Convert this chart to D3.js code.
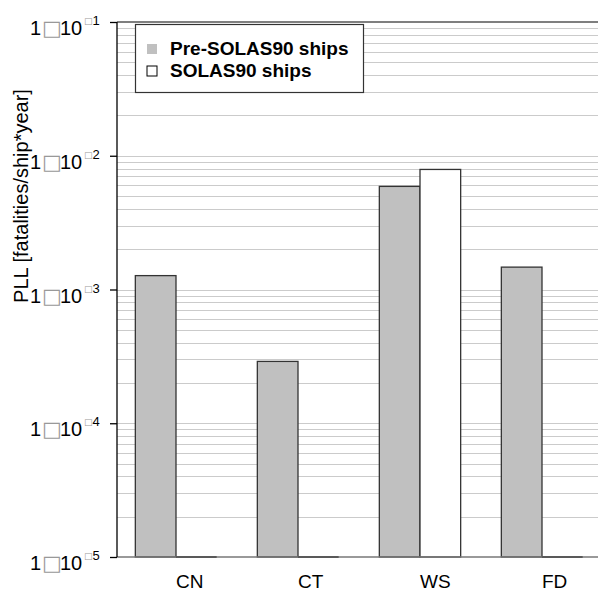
<!DOCTYPE html>
<html>
<head>
<meta charset="utf-8">
<script src="https://cdn.jsdelivr.net/npm/d3@7"></script>
<style>
  body { margin: 0; background: #fff; }
  svg { display: block; font-family: "Liberation Sans", Arial, sans-serif; }
  .grid line { stroke: #cbcbcb; stroke-width: 1; shape-rendering: crispEdges; }
  .y-axis path { display: none; }
  .y-axis line { stroke: #000; }
</style>
</head>
<body>
<div id="chart"></div>
<script>
// Chart data
const categories = ["CN", "CT", "WS", "FD"];
const seriesNames = ["Pre-SOLAS90 ships", "SOLAS90 ships"];
const preSolasValues = [1.27e-3, 2.9e-4, 5.9e-3, 1.47e-3];
const solasValues = [null, null, 7.9e-3, null];
const tickExponents = [1, 2, 3, 4, 5];

const width = 598, height = 592;
const plotLeft = 117, plotTop = 22, plotBottom = 557;

let svg = d3.select("#chart")
    .append("svg")
    .attr("width", width)
    .attr("height", height);

// Scales
let yScale = d3.scaleLog()
    .domain([1e-5, 1e-1])
    .range([plotBottom, plotTop]);

let xScale = d3.scaleBand()
    .domain(categories)
    .range([115, 603])
    .paddingInner(1 / 3)
    .paddingOuter(1 / 6);

let seriesScale = d3.scaleBand()
    .domain([0, 1])
    .range([0, xScale.bandwidth()]);

// Gridlines (log minor + major)
svg.append("g")
    .attr("class", "grid")
    .selectAll("line")
    .data(yScale.ticks().filter(d => d > 1e-5 && d < 1e-1))
    .enter()
    .append("line")
    .attr("x1", plotLeft)
    .attr("x2", width)
    .attr("y1", d => Math.round(yScale(d)) + 0.5)
    .attr("y2", d => Math.round(yScale(d)) + 0.5);

// Top border line
svg.append("line")
    .attr("x1", plotLeft)
    .attr("x2", width)
    .attr("y1", plotTop)
    .attr("y2", plotTop)
    .attr("stroke", "#555")
    .attr("stroke-width", 1.5);

// Bars
let rows = categories.map((c, i) => ({cat: c, values: [preSolasValues[i], solasValues[i]]}));

let groups = svg.selectAll(".bar-group")
    .data(rows)
    .enter()
    .append("g")
    .attr("class", "bar-group")
    .attr("transform", d => `translate(${xScale(d.cat)},0)`);

groups.selectAll("rect")
    .data(d => d.values.map((v, k) => ({v, k})).filter(d => d.v !== null))
    .enter()
    .append("rect")
    .attr("x", d => seriesScale(d.k))
    .attr("y", d => yScale(d.v))
    .attr("width", seriesScale.bandwidth())
    .attr("height", d => plotBottom - yScale(d.v))
    .attr("fill", d => d.k === 0 ? "#c0c0c0" : "#fff")
    .attr("stroke", "#333")
    .attr("stroke-width", 1.3);

// Baseline
svg.append("line")
    .attr("x1", plotLeft)
    .attr("x2", width)
    .attr("y1", plotBottom)
    .attr("y2", plotBottom)
    .attr("stroke", "#777")
    .attr("stroke-width", 1.5);

// Empty (zero) bars drawn as a flat black line
groups.selectAll(".zero")
    .data(d => d.values.map((v, k) => ({v, k})).filter(d => d.v === null))
    .enter()
    .append("line")
    .attr("class", "zero")
    .attr("x1", d => seriesScale(d.k))
    .attr("x2", d => seriesScale(d.k) + seriesScale.bandwidth())
    .attr("y1", plotBottom)
    .attr("y2", plotBottom)
    .attr("stroke", "#000")
    .attr("stroke-width", 2);

// Y axis
let yAxis = d3.axisLeft(yScale)
    .tickValues(tickExponents.map(e => Math.pow(10, -e)))
    .tickSize(7)
    .tickFormat("");

let yGroup = svg.append("g")
    .attr("class", "axis y-axis")
    .attr("transform", `translate(${plotLeft},0)`)
    .call(yAxis);

yGroup.selectAll(".tick line").attr("stroke-width", 1.3);

svg.append("line")
    .attr("x1", plotLeft)
    .attr("x2", plotLeft)
    .attr("y1", plotTop)
    .attr("y2", plotBottom)
    .attr("stroke", "#000")
    .attr("stroke-width", 1.3);

// Tick labels "1 x 10^-n" as they appear (missing glyphs shown as boxes)
tickExponents.forEach(e => {
    let t = svg.append("text")
        .attr("x", 30)
        .attr("y", yScale(Math.pow(10, -e)) + 13)
        .attr("font-size", 20)
        .attr("fill", "#000");
    t.append("tspan").text("1");
    t.append("tspan")
        .attr("x", 42)
        .attr("font-family", "DejaVu Sans")
        .attr("font-size", 21)
        .attr("fill", "#999")
        .text("\u25A1");
    t.append("tspan").attr("x", 60).text("10");
    t.append("tspan")
        .attr("x", 84)
        .attr("dy", -11)
        .attr("font-family", "DejaVu Sans")
        .attr("font-size", 9)
        .attr("fill", "#999")
        .text("\u25A1");
    t.append("tspan")
        .attr("x", 92.5)
        .attr("dy", 1)
        .attr("font-size", 13)
        .text(e);
});

// Y axis title
svg.append("text")
    .attr("transform", `translate(28, 196) rotate(-90)`)
    .attr("text-anchor", "middle")
    .attr("font-size", 20)
    .text("PLL [fatalities/ship*year]");

// Category labels (start at group centre)
svg.selectAll(".x-label")
    .data(categories)
    .enter()
    .append("text")
    .attr("class", "x-label")
    .attr("x", d => xScale(d) + xScale.bandwidth() / 2)
    .attr("y", 588)
    .attr("font-size", 19)
    .text(d => d);

// Legend
let legend = svg.append("g").attr("transform", "translate(135,24)");
legend.append("rect")
    .attr("x", 0.5)
    .attr("y", 0.5)
    .attr("width", 228)
    .attr("height", 68)
    .attr("fill", "#fff")
    .attr("stroke", "#333")
    .attr("stroke-width", 1.2);

let items = legend.selectAll(".item")
    .data(seriesNames)
    .enter()
    .append("g")
    .attr("class", "item")
    .attr("transform", (d, i) => `translate(12,${20 + i * 22})`);

items.append("rect")
    .attr("width", 10)
    .attr("height", 10)
    .attr("fill", (d, i) => i === 0 ? "#c0c0c0" : "#fff")
    .attr("stroke", (d, i) => i === 0 ? "none" : "#000");

items.append("text")
    .attr("x", 23)
    .attr("y", 11)
    .attr("font-size", 19)
    .attr("font-weight", "bold")
    .text(d => d);
</script>
</body>
</html>
